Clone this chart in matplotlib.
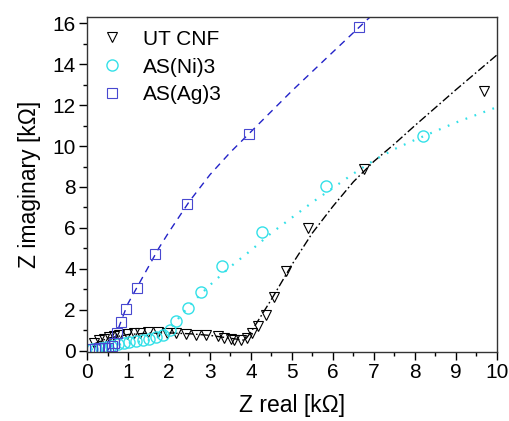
import matplotlib
matplotlib.use('Agg')
import matplotlib.pyplot as plt
from matplotlib.ticker import MultipleLocator

plt.rcParams['font.family'] = ['Liberation Sans', 'DejaVu Sans']

# dados medidos - UT CNF
ut_x = [0.18, 0.3, 0.42, 0.54, 0.66, 0.79, 0.97, 1.15, 1.3, 1.48, 1.72, 1.95, 2.17, 2.41,
        2.66, 2.9, 3.19, 3.35, 3.51, 3.59, 3.76, 3.9, 4.02, 4.18, 4.37, 4.56, 4.85, 5.39, 6.76, 9.7]
ut_y = [0.37, 0.5, 0.55, 0.66, 0.7, 0.74, 0.8, 0.86, 0.88, 0.89, 0.89, 0.88, 0.86, 0.83,
        0.78, 0.78, 0.7, 0.62, 0.54, 0.5, 0.5, 0.62, 0.86, 1.22, 1.76, 2.6, 3.9, 5.98, 8.87, 12.7]

# AS(Ni)3
ni_x = [0.12, 0.22, 0.34, 0.46, 0.58, 0.75, 0.89, 1.03, 1.2, 1.36, 1.52, 1.68, 1.85, 2.02,
        2.17, 2.46, 2.78, 3.3, 4.28, 5.83, 8.19]
ni_y = [0.05, 0.08, 0.13, 0.18, 0.23, 0.32, 0.38, 0.42, 0.46, 0.5, 0.56, 0.65, 0.78, 1.0,
        1.45, 2.1, 2.86, 4.14, 5.8, 8.03, 10.5]

# AS(Ag)3
ag_x = [0.12, 0.2, 0.28, 0.36, 0.44, 0.52, 0.6, 0.66, 0.72, 0.82, 0.94, 1.22, 1.67, 2.44, 3.95, 6.64]
ag_y = [0.05, 0.08, 0.1, 0.1, 0.1, 0.12, 0.2, 0.35, 0.88, 1.38, 2.05, 3.07, 4.7, 7.15, 10.6, 15.8]

# curvas de ajuste
ut_fit_x = [0.15, 0.5, 1.0, 1.5, 2.0, 2.5, 3.0, 3.5, 3.85, 4.0, 4.5, 5.0, 5.5, 6.0, 6.5, 7.0, 7.5, 8.0, 9.0, 10.0]
ut_fit_y = [0.3, 0.6, 0.78, 0.85, 0.86, 0.82, 0.74, 0.6, 0.5, 0.9, 2.5, 4.2, 5.75, 7.05, 8.25, 9.25, 10.1, 11.0, 12.75, 14.45]

ni_fit_x = [0.1, 0.5, 1.0, 1.5, 1.8, 2.0, 2.2, 2.5, 3.0, 3.5, 4.0, 4.5, 5.0, 5.5, 6.0, 6.5, 7.0, 7.5, 8.0, 9.0, 10.0]
ni_fit_y = [0.05, 0.2, 0.35, 0.5, 0.7, 1.0, 1.5, 2.2, 3.2, 4.1, 4.9, 5.75, 6.5, 7.25, 7.95, 8.65, 9.3, 9.85, 10.3, 11.15, 11.9]

ag_fit_x = [0.5, 0.65, 0.75, 0.9, 1.0, 1.25, 1.5, 1.75, 2.0, 2.5, 3.0, 3.5, 4.0, 5.0, 6.0, 6.9]
ag_fit_y = [0.0, 0.4, 1.0, 1.8, 2.3, 3.2, 4.1, 5.0, 5.8, 7.3, 8.6, 9.7, 10.7, 12.7, 14.6, 16.3]

fig = plt.figure(figsize=(5.09, 4.21), dpi=100)
ax = fig.add_axes([0.171, 0.165, 0.805, 0.794])

ax.plot(ut_fit_x, ut_fit_y, color='black', lw=1.0, dashes=(6, 2, 1.2, 2))
ax.plot(ni_fit_x, ni_fit_y, color='#33e0e8', lw=1.6, dashes=(0.8, 3.5))
ax.plot(ag_fit_x, ag_fit_y, color='#2323c8', lw=1.0, dashes=(5, 4))

ax.plot(ut_x, ut_y, 'v', ls='none', mfc='none', mec='black', ms=7, mew=0.8, label='UT CNF')
ax.plot(ni_x, ni_y, 'o', ls='none', mfc='none', mec='#33e0e8', ms=8, mew=1.0, label='AS(Ni)3')
ax.plot(ag_x, ag_y, 's', ls='none', mfc='none', mec='#4848d0', ms=6.5, mew=0.8, label='AS(Ag)3')

ax.set_xlim(0, 10)
ax.set_ylim(-0.05, 16.3)
ax.xaxis.set_major_locator(MultipleLocator(1))
ax.xaxis.set_minor_locator(MultipleLocator(0.5))
ax.yaxis.set_major_locator(MultipleLocator(2))
ax.yaxis.set_minor_locator(MultipleLocator(1))
ax.tick_params(which='both', direction='out', labelsize=15, width=1.0, pad=2)
ax.tick_params(which='major', length=6)
ax.tick_params(which='minor', length=3)
for s in ax.spines.values():
    s.set_linewidth(1.0)
    s.set_color('#333333')

ax.set_xlabel('Z real [k\u03a9]', fontsize=16.5, labelpad=9)
ax.set_ylabel('Z imaginary [k\u03a9]', fontsize=16.5, labelpad=8)

ax.legend(loc='upper left', frameon=False, fontsize=15, handletextpad=0.9,
          labelspacing=0.42, borderaxespad=0.3, handlelength=1.2, borderpad=0.3)

fig.savefig('out.png', dpi=100)
